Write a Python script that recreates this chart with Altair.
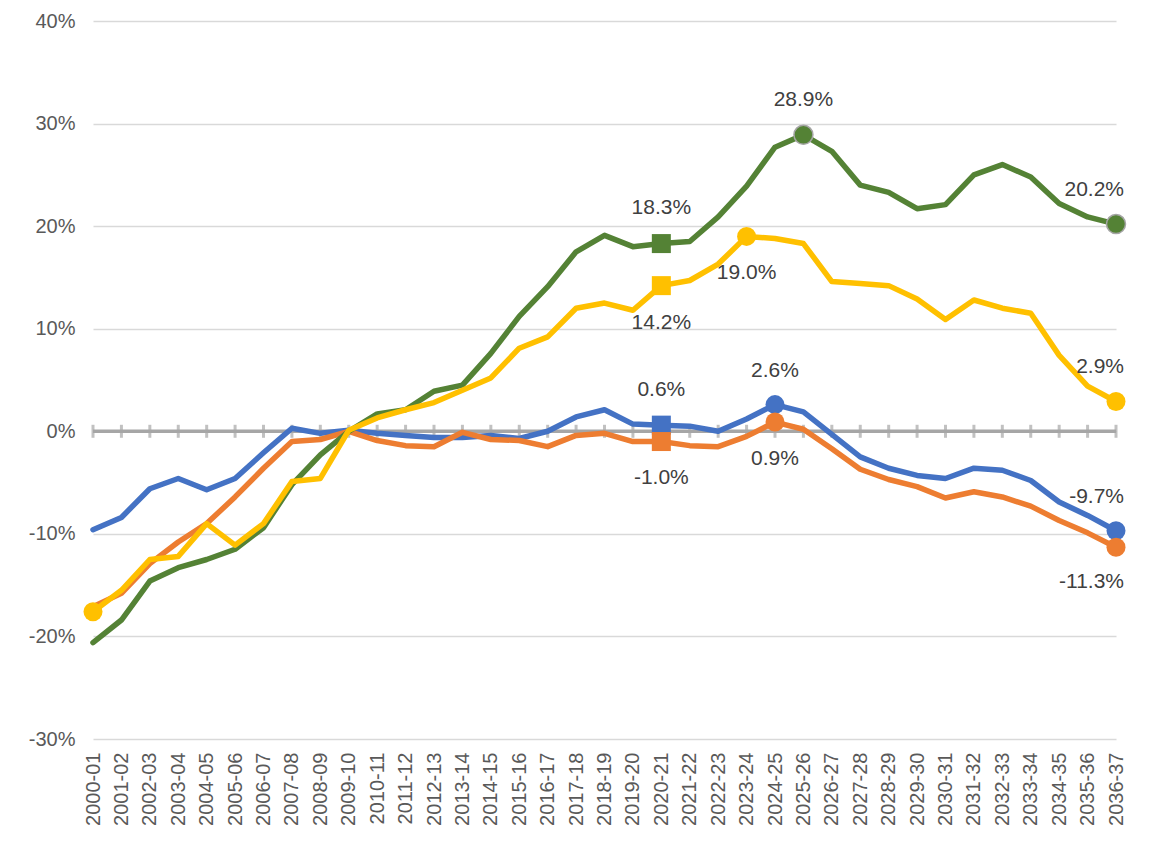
import altair as alt
import pandas as pd

categories = [f"{y}-{str(y + 1)[-2:]}" for y in range(2000, 2037)]

green = [-20.6, -18.4, -14.6, -13.3, -12.5, -11.5, -9.4, -5.2, -2.3, 0.0,
         1.7, 2.1, 3.9, 4.5, 7.6, 11.2, 14.1, 17.5, 19.1, 18.0,
         18.3, 18.5, 20.9, 23.9, 27.7, 28.9, 27.3, 24.0, 23.3, 21.7,
         22.1, 25.0, 26.0, 24.8, 22.2, 20.9, 20.2]
yellow = [-17.6, -15.5, -12.5, -12.2, -9.0, -11.1, -9.0, -4.9, -4.6, 0.1,
          1.3, 2.1, 2.8, 4.0, 5.2, 8.1, 9.2, 12.0, 12.5, 11.8,
          14.2, 14.7, 16.3, 19.0, 18.8, 18.3, 14.6, 14.4, 14.2, 12.9,
          10.9, 12.8, 12.0, 11.5, 7.4, 4.4, 2.9]
blue = [-9.6, -8.4, -5.6, -4.6, -5.7, -4.6, -2.1, 0.3, -0.2, 0.1,
        -0.2, -0.4, -0.6, -0.6, -0.4, -0.7, 0.0, 1.4, 2.1, 0.7,
        0.6, 0.5, 0.0, 1.2, 2.6, 1.9, -0.3, -2.5, -3.6, -4.3,
        -4.6, -3.6, -3.8, -4.8, -6.9, -8.2, -9.7]
orange = [-17.1, -15.8, -12.9, -10.8, -9.0, -6.4, -3.6, -1.0, -0.8, 0.0,
          -0.9, -1.4, -1.5, -0.1, -0.8, -0.9, -1.5, -0.4, -0.2, -1.0,
          -1.0, -1.4, -1.5, -0.5, 0.9, 0.2, -1.7, -3.7, -4.7, -5.4,
          -6.5, -5.9, -6.4, -7.3, -8.7, -9.9, -11.3]

series_names = ["Blue", "Orange", "Green", "Yellow"]
series_values = [blue, orange, green, yellow]
series_colors = ["#4472C4", "#ED7D31", "#548235", "#FFC000"]

y_ticks = [-0.3, -0.2, -0.1, 0.0, 0.1, 0.2, 0.3, 0.4]

# markers: (series, category, shape)
marker_series = ["Green", "Yellow", "Blue", "Orange",
                 "Green", "Green", "Yellow", "Yellow", "Yellow",
                 "Blue", "Blue", "Orange", "Orange"]
marker_cats = ["2020-21", "2020-21", "2020-21", "2020-21",
               "2025-26", "2036-37", "2000-01", "2023-24", "2036-37",
               "2024-25", "2036-37", "2024-25", "2036-37"]
marker_shapes = ["square", "square", "square", "square",
                 "circle", "circle", "circle", "circle", "circle",
                 "circle", "circle", "circle", "circle"]

# labels: (series, category)
label_series = ["Green", "Yellow", "Yellow", "Green", "Green", "Yellow",
                "Blue", "Blue", "Orange", "Orange", "Blue", "Orange"]
label_cats = ["2020-21", "2020-21", "2023-24", "2025-26", "2036-37", "2036-37",
              "2020-21", "2024-25", "2020-21", "2024-25", "2036-37", "2036-37"]
# placement style per label (dx, dy, align)
label_place = [(0, -36, "center"), (0, 37, "center"), (0, 37, "center"),
               (0, -35, "center"), (8, -34, "right"), (8, -35, "right"),
               (0, -35, "center"), (0, -34, "center"), (0, 36, "center"),
               (0, 37, "center"), (8, -34, "right"), (8, 35, "right")]

rows = []
for name, vals in zip(series_names, series_values):
    for c, v in zip(categories, vals):
        rows.append({"series": name, "cat": c, "value": v / 100})
df = pd.DataFrame(rows)

lookup = {(r["series"], r["cat"]): r["value"] for r in rows}

x_scale = alt.Scale(type="point", padding=0, domain=categories)
x_enc = alt.X("cat:O", scale=x_scale,
              axis=alt.Axis(title=None, labelAngle=270, labelFontSize=20,
                            labelColor="#595959", labelFont="Liberation Sans",
                            domain=False, ticks=False, labelPadding=13, grid=False))
y_enc = alt.Y("value:Q", scale=alt.Scale(domain=[-0.3, 0.4], nice=False),
              axis=alt.Axis(title=None, values=y_ticks,
                            labelExpr="replace(format(datum.value, '.0%'), '\u2212', '-')",
                            labelFontSize=20, labelColor="#595959", labelFont="Liberation Sans",
                            domain=False, ticks=False, labelPadding=18,
                            gridColor="#D9D9D9", gridWidth=1.5))
x_plain = alt.X("cat:O", scale=x_scale)
y_plain = alt.Y("value:Q")

base = alt.Chart(df)

grid = base.mark_point(opacity=0).encode(x=x_enc, y=y_enc)

zero_df = pd.DataFrame({"cat": categories, "value": [0.0] * len(categories)})
zero_line = alt.Chart(zero_df).mark_line(color="#A6A6A6", strokeWidth=3.5).encode(
    x=x_plain, y=y_plain)
zero_ticks = alt.Chart(zero_df).mark_tick(color="#A6A6A6", size=13, thickness=3,
                                          orient="vertical").encode(x=x_plain, y=y_plain)

layers = [grid, zero_line, zero_ticks]

for name, col in zip(series_names, series_colors):
    layers.append(
        base.transform_filter(alt.datum.series == name)
        .mark_line(color=col, strokeWidth=5.5, strokeJoin="round", strokeCap="round")
        .encode(x=x_plain, y=y_plain)
    )

mk_df = pd.DataFrame({
    "series": marker_series, "cat": marker_cats, "shape": marker_shapes,
    "value": [lookup[(s, c)] for s, c in zip(marker_series, marker_cats)],
})
for name, col in zip(series_names, series_colors):
    for shp in ["square", "circle"]:
        sub = mk_df[(mk_df.series == name) & (mk_df["shape"] == shp)]
        if len(sub) == 0:
            continue
        kw = dict(shape=shp, size=361, filled=True, color=col, opacity=1)
        if name == "Green" and shp == "circle":
            kw.update(stroke="#A5A5A5", strokeWidth=1.5)
        else:
            kw.update(strokeWidth=0)
        layers.append(alt.Chart(sub).mark_point(**kw).encode(x=x_plain, y=y_plain))

for s, c, (dx, dy, al) in zip(label_series, label_cats, label_place):
    v = lookup[(s, c)]
    ldf = pd.DataFrame({"cat": [c], "value": [v], "text": [f"{v * 100:.1f}%"]})
    layers.append(
        alt.Chart(ldf).mark_text(dx=dx, dy=dy, align=al, baseline="middle",
                                 fontSize=21, font="Liberation Sans", color="#404040")
        .encode(x=x_plain, y=y_plain, text="text:N")
    )

chart = (
    alt.layer(*layers)
    .properties(
        width=1023, height=718,
        autosize=alt.AutoSizeParams(type="none"),
        padding={"left": 85, "top": 13, "right": 20, "bottom": 100},
    )
    .configure(background="white")
    .configure_view(strokeWidth=0, stroke="transparent")
    .configure_axisX(grid=False)
)

chart.save("out.html", embed_options={"renderer": "svg", "actions": False})
